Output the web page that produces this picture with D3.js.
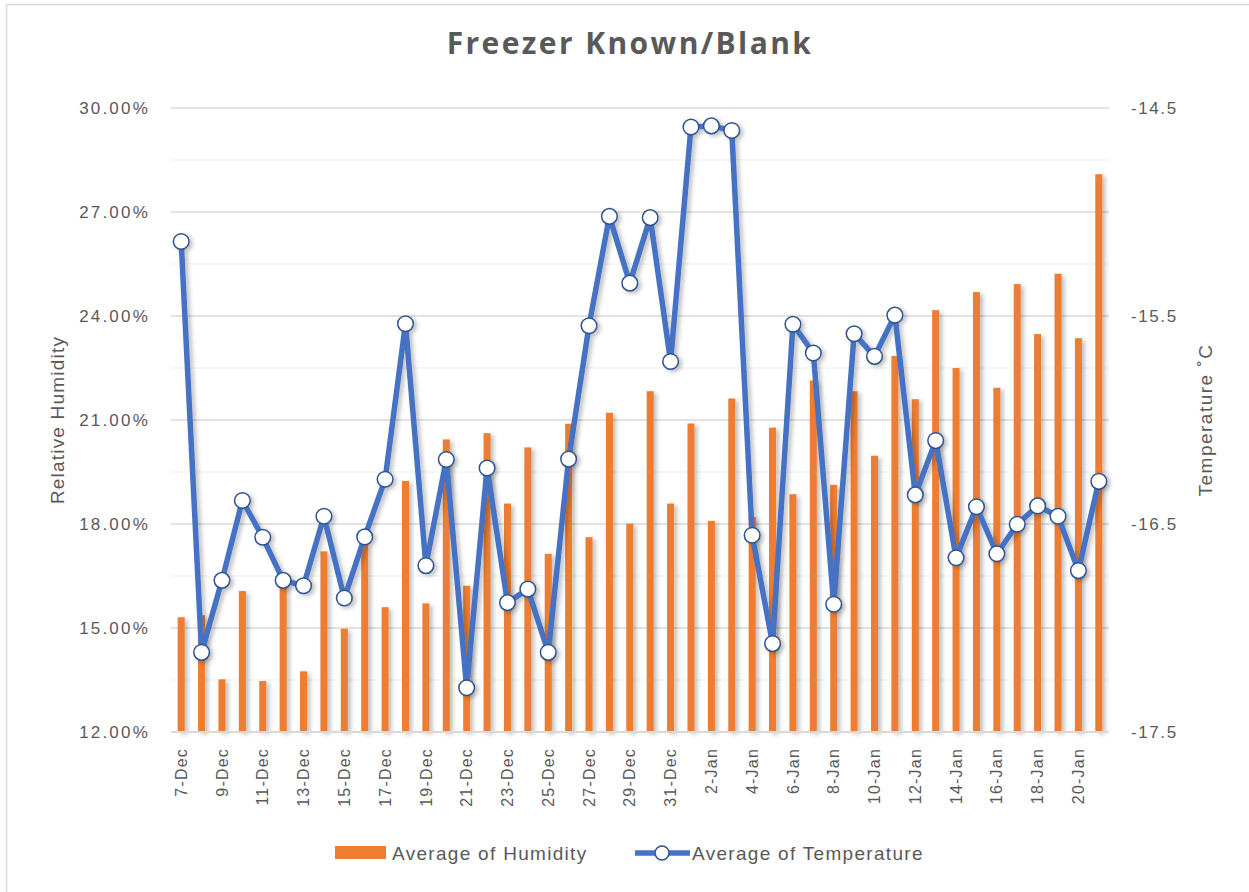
<!DOCTYPE html>
<html>
<head>
<meta charset="utf-8">
<script src="https://cdn.jsdelivr.net/npm/d3@7"></script>
<style>
    body { margin: 0; background: #fff; }
    #chart { width: 1249px; height: 892px; }
    text { font-family: "Liberation Sans", "Open Sans", sans-serif; fill: #595959; }
</style>
</head>
<body>
<div id="chart"></div>
<script>
// Dates on the category axis (7-Dec .. 21-Jan)
const dates = [
    "7-Dec", "8-Dec", "9-Dec", "10-Dec", "11-Dec", "12-Dec", "13-Dec", "14-Dec", "15-Dec", "16-Dec",
    "17-Dec", "18-Dec", "19-Dec", "20-Dec", "21-Dec", "22-Dec", "23-Dec", "24-Dec", "25-Dec", "26-Dec",
    "27-Dec", "28-Dec", "29-Dec", "30-Dec", "31-Dec", "1-Jan", "2-Jan", "3-Jan", "4-Jan", "5-Jan",
    "6-Jan", "7-Jan", "8-Jan", "9-Jan", "10-Jan", "11-Jan", "12-Jan", "13-Jan", "14-Jan", "15-Jan",
    "16-Jan", "17-Jan", "18-Jan", "19-Jan", "20-Jan", "21-Jan"
];

// Average of Humidity (%)
const humidity = [
    15.31, 15.37, 13.52, 16.07, 13.47, 16.3, 13.75, 17.21, 14.98, 17.41,
    15.6, 19.24, 15.71, 20.44, 16.22, 20.62, 18.59, 20.21, 17.14, 20.89,
    17.62, 21.21, 18.01, 21.83, 18.59, 20.9, 18.09, 21.62, 18.2, 20.78,
    18.86, 22.14, 19.13, 21.83, 19.97, 22.85, 21.6, 24.17, 22.5, 24.69,
    21.93, 24.92, 23.48, 25.22, 23.36, 28.09
];

// Average of Temperature (°C)
const temperature = [
    -15.142, -17.117, -16.771, -16.387, -16.564, -16.771, -16.797, -16.463, -16.856, -16.562,
    -16.285, -15.537, -16.7, -16.19, -17.287, -16.231, -16.878, -16.813, -17.117, -16.188,
    -15.547, -15.021, -15.342, -15.027, -15.719, -14.591, -14.586, -14.608, -16.554, -17.075,
    -15.54, -15.678, -16.886, -15.585, -15.694, -15.496, -16.36, -16.099, -16.662, -16.417,
    -16.643, -16.501, -16.413, -16.463, -16.724, -16.295
];

const humidityTicks = [12, 15, 18, 21, 24, 27, 30];
const temperatureTicks = [-17.5, -16.5, -15.5, -14.5];

const W = 1249, H = 892;
const margin = { top: 108, right: 140, bottom: 160, left: 171 };
const width = W - margin.left - margin.right;   // 938
const height = H - margin.top - margin.bottom;  // 624

const svg = d3.select("#chart").append("svg")
    .attr("width", W)
    .attr("height", H);

// Soft shadow used by Excel-style marks
const defs = svg.append("defs");
const shadow = defs.append("filter").attr("id", "shadow")
    .attr("x", "-50%").attr("y", "-10%").attr("width", "250%").attr("height", "130%");
shadow.append("feDropShadow")
    .attr("dx", 3).attr("dy", 2).attr("stdDeviation", 2)
    .attr("flood-color", "#000").attr("flood-opacity", 0.25);

// Chart border (right/bottom edges are outside the picture)
svg.append("rect")
    .attr("x", 6.5).attr("y", 4.5)
    .attr("width", W).attr("height", H)
    .attr("fill", "none")
    .attr("stroke", "#d9d9d9")
    .attr("stroke-width", 1.5);

const g = svg.append("g").attr("transform", `translate(${margin.left},${margin.top})`);

const x = d3.scaleBand().domain(dates).range([0, width]);
const yHum = d3.scaleLinear().domain([12, 30]).range([height, 0]);
const yTemp = d3.scaleLinear().domain([-17.5, -14.5]).range([height, 0]);

// Gridlines: major every 3%, minor halfway between
g.append("g")
    .selectAll("line")
    .data(d3.range(12, 30.01, 1.5))
    .join("line")
    .attr("x1", 0).attr("x2", width)
    .attr("y1", d => yHum(d)).attr("y2", d => yHum(d))
    .attr("stroke", (d, i) => i % 2 === 0 ? "#d9d9d9" : "#efefef")
    .attr("stroke-width", (d, i) => i % 2 === 0 ? 1.3 : 1);

// Humidity bars
g.append("g")
    .selectAll("rect")
    .data(humidity)
    .join("rect")
    .attr("x", (d, i) => x(dates[i]) + x.bandwidth() / 2 - 3.5)
    .attr("y", d => yHum(d))
    .attr("width", 7)
    .attr("height", d => height - yHum(d))
    .attr("fill", "#ED7D31")
    .attr("filter", "url(#shadow)");

// Bottom axis line
g.append("line")
    .attr("x1", 0).attr("x2", width)
    .attr("y1", height).attr("y2", height)
    .attr("stroke", "#d9d9d9")
    .attr("stroke-width", 2);

// Temperature line + markers
const line = d3.line()
    .x((d, i) => x(dates[i]) + x.bandwidth() / 2)
    .y(d => yTemp(d));

const lineGroup = g.append("g").attr("filter", "url(#shadow)");
lineGroup.append("path")
    .datum(temperature)
    .attr("d", line)
    .attr("fill", "none")
    .attr("stroke", "#4472C4")
    .attr("stroke-width", 5.5)
    .attr("stroke-linejoin", "round");

lineGroup.selectAll("circle")
    .data(temperature)
    .join("circle")
    .attr("cx", (d, i) => x(dates[i]) + x.bandwidth() / 2)
    .attr("cy", d => yTemp(d))
    .attr("r", 7.8)
    .attr("fill", "#fff")
    .attr("stroke", "#2F528F")
    .attr("stroke-width", 1.5);

// Left axis
const leftAxis = g.append("g")
    .call(d3.axisLeft(yHum).tickValues(humidityTicks).tickSize(0).tickPadding(21)
        .tickFormat(d => d.toFixed(2) + "%"));
leftAxis.select(".domain").remove();
leftAxis.selectAll("text")
    .style("font-size", "17px")
    .style("letter-spacing", "2.2px")
    .attr("fill", "#595959");

// Right axis (plain hyphen minus, as in the original)
const rightAxis = g.append("g")
    .attr("transform", `translate(${width},0)`)
    .call(d3.axisRight(yTemp).tickValues(temperatureTicks).tickSize(0).tickPadding(22)
        .tickFormat(d => d.toFixed(1)));
rightAxis.select(".domain").remove();
rightAxis.selectAll("text")
    .style("font-size", "17px")
    .style("letter-spacing", "1.6px")
    .attr("fill", "#595959");

// Bottom axis: every other date, rotated
const bottomAxis = g.append("g")
    .attr("transform", `translate(0,${height})`)
    .call(d3.axisBottom(x).tickValues(dates.filter((d, i) => i % 2 === 0)).tickSize(0).tickPadding(0));
bottomAxis.select(".domain").remove();
bottomAxis.selectAll("text")
    .attr("transform", "rotate(-90)")
    .attr("x", -16)
    .attr("y", 0)
    .attr("dy", "0.35em")
    .style("text-anchor", "end")
    .style("font-size", "16px")
    .style("letter-spacing", "1.2px")
    .attr("fill", "#595959");

// Title
svg.append("text")
    .attr("x", 630)
    .attr("y", 54)
    .attr("text-anchor", "middle")
    .style("font-family", "'Open Sans', sans-serif")
    .style("font-size", "30px")
    .style("font-weight", "bold")
    .style("letter-spacing", "2.4px")
    .text("Freezer Known/Blank");

// Axis titles
svg.append("text")
    .attr("transform", `translate(64,${margin.top + height / 2}) rotate(-90)`)
    .attr("text-anchor", "middle")
    .style("font-size", "19px")
    .style("letter-spacing", "1.2px")
    .text("Relative Humidity");

svg.append("text")
    .attr("transform", `translate(1212,${margin.top + height / 2}) rotate(-90)`)
    .attr("text-anchor", "middle")
    .style("font-size", "19px")
    .style("letter-spacing", "1.5px")
    .text("Temperature ˚C");

// Legend
const legend = svg.append("g");
legend.append("rect")
    .attr("x", 335).attr("y", 846)
    .attr("width", 51).attr("height", 13)
    .attr("fill", "#ED7D31");
legend.append("text")
    .attr("x", 392).attr("y", 853)
    .attr("dy", "0.35em")
    .style("font-size", "19px")
    .style("letter-spacing", "1.3px")
    .text("Average of Humidity");

legend.append("line")
    .attr("x1", 635).attr("x2", 690)
    .attr("y1", 853).attr("y2", 853)
    .attr("stroke", "#4472C4")
    .attr("stroke-width", 5.5);
legend.append("circle")
    .attr("cx", 662).attr("cy", 853).attr("r", 7)
    .attr("fill", "#fff")
    .attr("stroke", "#2F528F")
    .attr("stroke-width", 1.5);
legend.append("text")
    .attr("x", 692).attr("y", 853)
    .attr("dy", "0.35em")
    .style("font-size", "19px")
    .style("letter-spacing", "1.3px")
    .text("Average of Temperature");
</script>
</body>
</html>
